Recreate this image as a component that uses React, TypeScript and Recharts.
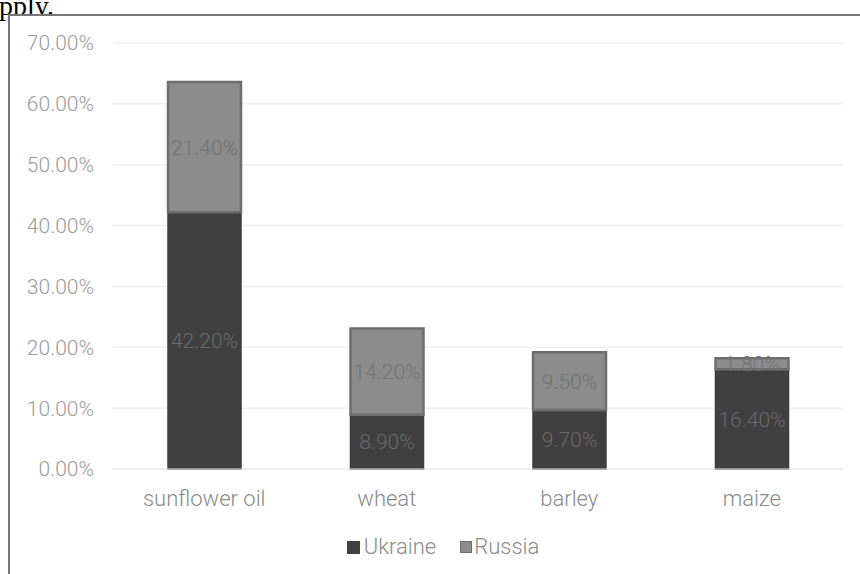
import React from 'react';
import { BarChart, Bar, XAxis, YAxis, CartesianGrid, LabelList, Legend } from 'recharts';

const categories = ['sunflower oil', 'wheat', 'barley', 'maize'];
const ukraine = [42.2, 8.9, 9.7, 16.4];
const russia = [21.4, 14.2, 9.5, 1.8];
const yTicks = [0, 10, 20, 30, 40, 50, 60, 70];

const data = categories.map((name, i) => ({ name, Ukraine: ukraine[i], Russia: russia[i] }));

const FONT = 'Roboto, "Noto Sans", sans-serif';
const fmt = (v: number) => `${v.toFixed(2)}%`;

const LegendContent = () => (
  <div style={{ display: 'flex', justifyContent: 'center', alignItems: 'center', fontFamily: FONT, fontWeight: 300, fontSize: 22, color: '#8a8a8a', lineHeight: '30px' }}>
    <span style={{ display: 'inline-block', width: 13, height: 13, background: '#404040', marginRight: 4 }} />
    <span style={{ marginRight: 24 }}>Ukraine</span>
    <span style={{ display: 'inline-block', width: 10, height: 10, background: '#8c8c8c', border: '1px solid #6e6e6e', marginRight: 2 }} />
    <span>Russia</span>
  </div>
);

export default function App() {
  return (
    <div style={{ position: 'absolute', left: 0, top: 0, width: 860, height: 574, overflow: 'hidden', background: '#fff' }}>
      <div style={{ position: 'absolute', left: -1, top: -8, fontFamily: '"Liberation Serif", serif', fontSize: 28, lineHeight: '28px', color: '#000' }}>pply.</div>
      <div style={{ position: 'absolute', left: 8, top: 14, width: 900, height: 600, borderTop: '2px solid #767676', borderLeft: '2px solid #767676', background: '#fff' }} />
      <div style={{ position: 'absolute', left: 0, top: 0 }}>
        <BarChart width={860} height={574} data={data} margin={{ top: 43, right: 17, left: 0, bottom: 35 }} barSize={73}>
          <CartesianGrid vertical={false} stroke="#f0f0f0" strokeWidth={1.5} />
          <XAxis dataKey="name" axisLine={{ stroke: '#e8e8e8' }} tickLine={false} tickSize={0} tickMargin={21} height={40}
            tick={{ fill: '#8a8a8a', fontSize: 22, fontFamily: FONT, fontWeight: 300 }} interval={0} />
          <YAxis width={113} domain={[0, 70]} ticks={yTicks} tickFormatter={fmt} axisLine={false} tickLine={false} tickSize={0} tickMargin={19}
            tick={{ fill: '#9a9a9a', fontSize: 21, fontFamily: FONT, fontWeight: 300 }} />
          <Legend verticalAlign="bottom" height={30} content={<LegendContent />} wrapperStyle={{ top: 532, left: 13, width: 860 }} />
          <Bar dataKey="Ukraine" stackId="a" fill="#404040" stroke="#3c3c3c" strokeWidth={1.5} isAnimationActive={false}>
            <LabelList dataKey="Ukraine" position="center" formatter={(v: any) => fmt(Number(v))}
              style={{ fill: '#6a6a6a', fontSize: 21, fontFamily: FONT, fontWeight: 300 }} />
          </Bar>
          <Bar dataKey="Russia" stackId="a" fill="#8c8c8c" stroke="#6e6e6e" strokeWidth={2.5} isAnimationActive={false}>
            <LabelList dataKey="Russia" position="center" formatter={(v: any) => fmt(Number(v))}
              style={{ fill: '#727272', fontSize: 21, fontFamily: FONT, fontWeight: 300 }} />
          </Bar>
        </BarChart>
      </div>
    </div>
  );
}
